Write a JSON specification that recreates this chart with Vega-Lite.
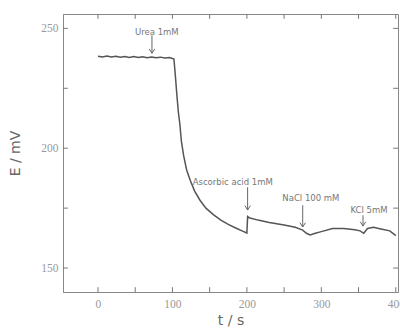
{
  "$schema": "https://vega.github.io/schema/vega-lite/v6.json",
  "width": 335,
  "height": 278,
  "autosize": {"type": "none"},
  "padding": {"left": 63, "top": 14, "right": 2, "bottom": 36},
  "background": "white",
  "config": {
    "view": {"stroke": "#888", "strokeWidth": 1},
    "axis": {
      "domainColor": "#888",
      "labelFont": "Liberation Serif",
      "labelFontSize": 11.5,
      "labelColor": "#999",
      "titleFont": "DejaVu Sans",
      "titleFontSize": 14,
      "titleFontWeight": "normal",
      "titleColor": "#666",
      "grid": false
    }
  },
  "datasets": {
    "curve": [
      {"t": 0, "E": 238.4}, {"t": 6, "E": 238.1}, {"t": 12, "E": 238.5}, {"t": 18, "E": 238.1},
      {"t": 24, "E": 238.4}, {"t": 30, "E": 238.0}, {"t": 36, "E": 238.3}, {"t": 42, "E": 237.9},
      {"t": 48, "E": 238.3}, {"t": 54, "E": 237.9}, {"t": 60, "E": 238.2}, {"t": 66, "E": 237.8},
      {"t": 72, "E": 238.1}, {"t": 78, "E": 237.7}, {"t": 84, "E": 238.0}, {"t": 90, "E": 237.6},
      {"t": 96, "E": 237.8}, {"t": 100, "E": 237.4}, {"t": 102, "E": 237.2},
      {"t": 104, "E": 230}, {"t": 106, "E": 222}, {"t": 108, "E": 215}, {"t": 110, "E": 210},
      {"t": 112, "E": 203}, {"t": 115, "E": 197}, {"t": 119, "E": 191}, {"t": 124, "E": 186.5},
      {"t": 130, "E": 182}, {"t": 137, "E": 178.3}, {"t": 145, "E": 175}, {"t": 155, "E": 172.3},
      {"t": 165, "E": 170}, {"t": 175, "E": 168.2}, {"t": 185, "E": 166.7}, {"t": 195, "E": 165.3},
      {"t": 200, "E": 164.6}, {"t": 201, "E": 171.5}, {"t": 203, "E": 171}, {"t": 215, "E": 170},
      {"t": 230, "E": 169}, {"t": 250, "E": 168}, {"t": 265, "E": 167}, {"t": 275, "E": 165.8},
      {"t": 280, "E": 164.5}, {"t": 285, "E": 163.8}, {"t": 292, "E": 164.5}, {"t": 300, "E": 165.2},
      {"t": 315, "E": 166.5}, {"t": 330, "E": 166.5}, {"t": 345, "E": 166}, {"t": 352, "E": 165.5},
      {"t": 357, "E": 164.5}, {"t": 362, "E": 166.5}, {"t": 370, "E": 167}, {"t": 380, "E": 166.3},
      {"t": 392, "E": 165.5}, {"t": 400, "E": 163.5}
    ],
    "notes": [
      {"label": "Urea 1mM", "tx": 79, "ty": 248.3, "ax": 72.5, "ay1": 247.1, "ay2": 239.6},
      {"label": "Ascorbic acid 1mM", "tx": 181, "ty": 185.8, "ax": 201, "ay1": 183.7, "ay2": 174.2},
      {"label": "NaCl 100 mM", "tx": 286, "ty": 179.2, "ax": 275, "ay1": 176.2, "ay2": 167.1},
      {"label": "KCl 5mM", "tx": 364, "ty": 174.2, "ax": 356, "ay1": 172, "ay2": 167.5}
    ],
    "xticks": [
      {"v": 0}, {"v": 50}, {"v": 100}, {"v": 150}, {"v": 200}, {"v": 250}, {"v": 300}, {"v": 350}, {"v": 400}
    ],
    "yticks": [
      {"v": 150}, {"v": 175}, {"v": 200}, {"v": 225}, {"v": 250}
    ]
  },
  "layer": [
    {
      "data": {"name": "curve"},
      "mark": {"type": "line", "color": "#555", "strokeWidth": 1.5},
      "encoding": {
        "x": {
          "field": "t", "type": "quantitative",
          "scale": {"domain": [-47, 403], "nice": false, "zero": false},
          "axis": {
            "orient": "bottom", "title": "t / s", "values": [0, 100, 200, 300, 400],
            "ticks": false, "labelPadding": 6, "titlePadding": 4
          }
        },
        "y": {
          "field": "E", "type": "quantitative",
          "scale": {"domain": [140, 256], "nice": false, "zero": false},
          "axis": {
            "orient": "left", "title": "E / mV", "values": [150, 200, 250],
            "ticks": false, "labelPadding": 5, "titlePadding": 18
          }
        }
      }
    },
    {
      "data": {"name": "xticks"},
      "mark": {"type": "rule", "color": "#777", "strokeWidth": 1},
      "encoding": {
        "x": {"field": "v", "type": "quantitative", "axis": null},
        "y": {"datum": 140, "type": "quantitative", "axis": null},
        "y2": {"datum": 142}
      }
    },
    {
      "data": {"name": "xticks"},
      "mark": {"type": "rule", "color": "#777", "strokeWidth": 1},
      "encoding": {
        "x": {"field": "v", "type": "quantitative", "axis": null},
        "y": {"datum": 256, "type": "quantitative", "axis": null},
        "y2": {"datum": 254}
      }
    },
    {
      "data": {"name": "yticks"},
      "mark": {"type": "rule", "color": "#777", "strokeWidth": 1},
      "encoding": {
        "y": {"field": "v", "type": "quantitative", "axis": null},
        "x": {"datum": -47, "type": "quantitative", "axis": null},
        "x2": {"datum": -40.5}
      }
    },
    {
      "data": {"name": "yticks"},
      "mark": {"type": "rule", "color": "#777", "strokeWidth": 1},
      "encoding": {
        "y": {"field": "v", "type": "quantitative", "axis": null},
        "x": {"datum": 403, "type": "quantitative", "axis": null},
        "x2": {"datum": 396.5}
      }
    },
    {
      "data": {"name": "notes"},
      "mark": {"type": "rule", "color": "#666", "strokeWidth": 1},
      "encoding": {
        "x": {"field": "ax", "type": "quantitative", "axis": null},
        "y": {"field": "ay1", "type": "quantitative", "axis": null},
        "y2": {"field": "ay2"}
      }
    },
    {
      "data": {"name": "notes"},
      "mark": {"type": "point", "shape": "M-1,-1.6L0,0L1,-1.6", "filled": false, "stroke": "#666", "strokeWidth": 1, "size": 30, "opacity": 1},
      "encoding": {
        "x": {"field": "ax", "type": "quantitative", "axis": null},
        "y": {"field": "ay2", "type": "quantitative", "axis": null}
      }
    },
    {
      "data": {"name": "notes"},
      "mark": {"type": "text", "font": "DejaVu Sans", "fontSize": 8.5, "color": "#777", "align": "center", "baseline": "middle"},
      "encoding": {
        "x": {"field": "tx", "type": "quantitative", "axis": null},
        "y": {"field": "ty", "type": "quantitative", "axis": null},
        "text": {"field": "label"}
      }
    }
  ],
  "resolve": {"axis": {"x": "independent", "y": "independent"}}
}
